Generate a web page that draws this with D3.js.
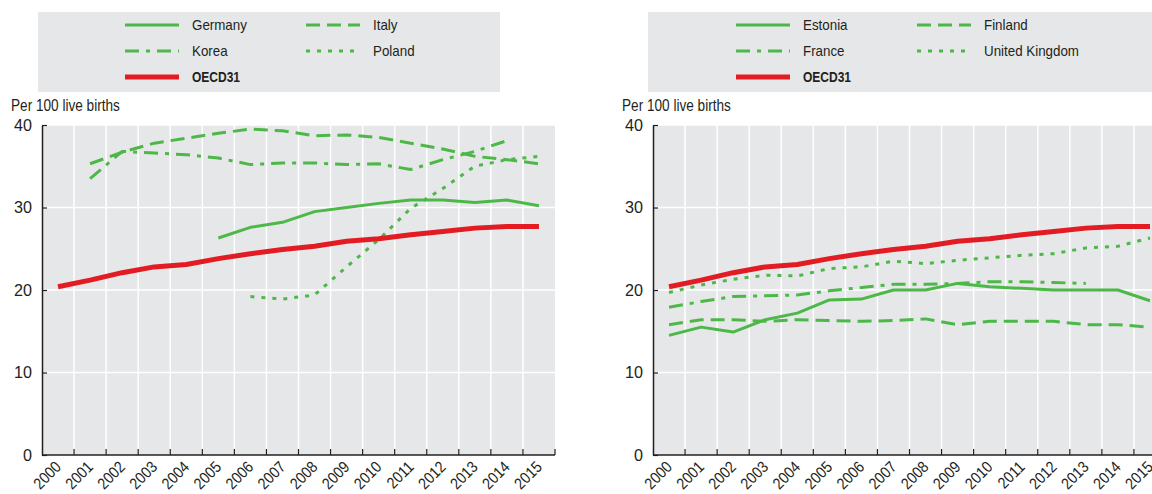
<!DOCTYPE html>
<html>
<head>
<meta charset="utf-8">
<script src="https://cdn.jsdelivr.net/npm/d3@7"></script>
<style>
  html, body { margin: 0; padding: 0; background: #ffffff; }
  svg { display: block; }
  text { font-family: "Liberation Sans", Arial, sans-serif; fill: #231f20; }
</style>
</head>
<body>
<svg id="chart" width="1152" height="494"></svg>
<script>
// ---- Data ----
const years = ["2000","2001","2002","2003","2004","2005","2006","2007","2008","2009","2010","2011","2012","2013","2014","2015"];
const yTicks = [0, 10, 20, 30, 40];
const yLabel = "Per 100 live births";

const oecd31  = [20.4, 21.2, 22.1, 22.8, 23.1, 23.8, 24.4, 24.9, 25.3, 25.9, 26.2, 26.7, 27.1, 27.5, 27.7, 27.7];

const germany = [null, null, null, null, null, 26.3, 27.6, 28.2, 29.5, 30.0, 30.5, 30.9, 30.9, 30.6, 30.9, 30.2];
const italy   = [null, 35.3, 36.7, 37.8, 38.4, 39.0, 39.5, 39.3, 38.7, 38.8, 38.5, 37.8, 37.1, 36.2, 35.8, 35.3];
const korea   = [null, 33.5, 36.8, 36.6, 36.4, 36.0, 35.2, 35.4, 35.4, 35.2, 35.3, 34.6, 35.8, 36.8, 38.1, null];
const poland  = [null, null, null, null, null, null, 19.2, 18.9, 19.4, 22.8, 26.1, 29.9, 32.3, 35.0, 35.8, 36.2];

const estonia = [14.5, 15.5, 14.9, 16.4, 17.2, 18.8, 18.9, 20.0, 20.0, 20.8, 20.4, 20.2, 20.0, 20.0, 20.0, 18.7];
const finland = [15.8, 16.4, 16.4, 16.2, 16.4, 16.3, 16.2, 16.3, 16.5, 15.8, 16.2, 16.2, 16.2, 15.8, 15.8, 15.5];
const france  = [17.9, 18.6, 19.2, 19.3, 19.4, 19.9, 20.3, 20.7, 20.7, 20.8, 21.0, 21.0, 20.9, 20.8, null, null];
const uk      = [19.7, 20.6, 21.3, 21.8, 21.7, 22.6, 22.8, 23.5, 23.2, 23.6, 23.9, 24.2, 24.4, 25.1, 25.3, 26.3];

const leftNames  = ["Germany", "Italy", "Korea", "Poland", "OECD31"];
const rightNames = ["Estonia", "Finland", "France", "United Kingdom", "OECD31"];

// ---- Styles ----
const GREEN = "#4cb848", RED = "#e31b23", BG = "#e6e7e8", AXIS = "#231f20";
const styles = {
  solid:   { color: GREEN, width: 3, dash: null },
  dashed:  { color: GREEN, width: 3, dash: "14,7" },
  dashdot: { color: GREEN, width: 3, dash: "14,7,4,7" },
  dotted:  { color: GREEN, width: 3, dash: "4,7" },
  oecd:    { color: RED,   width: 5, dash: null }
};
const styleOrder = ["solid", "dashed", "dashdot", "dotted", "oecd"];

const panels = [
  { left: 42,  names: leftNames,  data: [germany, italy, korea, poland, oecd31], legend: [38, 500] },
  { left: 653, names: rightNames, data: [estonia, finland, france, uk, oecd31], legend: [648, 1160] }
];

const svg = d3.select("#chart");
const plotTop = 125, plotBottom = 455, plotW = 513;

// horizontally condense text to mimic a narrow typeface
function condense(sel, ratio) {
  sel.each(function () {
    const L = this.getComputedTextLength();
    d3.select(this).attr("textLength", (L * ratio).toFixed(2)).attr("lengthAdjust", "spacingAndGlyphs");
  });
}

panels.forEach(p => {
  const g = svg.append("g");
  const x = d3.scaleBand().domain(years).range([p.left, p.left + plotW]).padding(0);
  const y = d3.scaleLinear().domain([0, 40]).range([plotBottom, plotTop]);
  const cx = yr => x(yr) + x.bandwidth() / 2;

  // legend box
  g.append("rect").attr("x", p.legend[0]).attr("y", 12)
    .attr("width", p.legend[1] - p.legend[0]).attr("height", 80).attr("fill", BG);
  const legX = p.left + 83, legX2 = p.left + 264;
  const legPos = [[legX, 25], [legX2, 25], [legX, 51], [legX2, 51], [legX, 77]];
  p.names.forEach((n, i) => {
    const s = styles[styleOrder[i]];
    const [lx, ly] = legPos[i];
    g.append("line").attr("x1", lx).attr("x2", lx + 54).attr("y1", ly).attr("y2", ly)
      .attr("stroke", s.color).attr("stroke-width", s.width)
      .attr("stroke-dasharray", s.dash);
    const t = g.append("text").attr("x", lx + 67).attr("y", ly).attr("dy", "0.36em")
      .attr("font-size", 15).attr("font-weight", i === 4 ? "bold" : "normal").text(n);
    condense(t, i === 4 ? 0.8 : 0.89);
  });

  // y label
  condense(g.append("text").attr("x", p.left - 31).attr("y", 111).attr("font-size", 16).text(yLabel), 0.85);

  // plot background
  g.append("rect").attr("x", p.left).attr("y", plotTop).attr("width", plotW).attr("height", plotBottom - plotTop).attr("fill", BG);

  // grid
  g.selectAll(".hg").data(yTicks.filter(d => d > 0)).enter().append("line")
    .attr("x1", p.left).attr("x2", p.left + plotW).attr("y1", d => y(d)).attr("y2", d => y(d))
    .attr("stroke", "#fff").attr("stroke-width", 1.5);
  g.selectAll(".vg").data(years.slice(1)).enter().append("line")
    .attr("x1", d => x(d)).attr("x2", d => x(d)).attr("y1", plotTop).attr("y2", plotBottom)
    .attr("stroke", "#fff").attr("stroke-width", 1.5);

  // series
  const line = d3.line().defined(d => d.v != null).x(d => cx(d.yr)).y(d => y(d.v));
  p.data.forEach((arr, i) => {
    const s = styles[styleOrder[i]];
    g.append("path").datum(arr.map((v, k) => ({ yr: years[k], v })))
      .attr("d", line).attr("fill", "none")
      .attr("stroke", s.color).attr("stroke-width", s.width)
      .attr("stroke-dasharray", s.dash).attr("stroke-linejoin", "round");
  });

  // y axis
  const ya = g.append("g").attr("transform", `translate(${p.left},0)`)
    .call(d3.axisLeft(y).tickValues(yTicks).tickSizeInner(-5).tickSizeOuter(0).tickPadding(10));
  ya.select(".domain").attr("stroke", AXIS).attr("stroke-width", 1.5);
  ya.selectAll(".tick line").attr("stroke", AXIS).attr("stroke-width", 1.2);
  ya.selectAll(".tick text").attr("font-size", 17).attr("fill", AXIS)
    .style("font-family", '"Liberation Sans", Arial, sans-serif');
  condense(ya.selectAll(".tick text"), 0.95);

  // x axis
  g.append("line").attr("x1", p.left).attr("x2", p.left + plotW).attr("y1", plotBottom).attr("y2", plotBottom)
    .attr("stroke", AXIS).attr("stroke-width", 1.5);
  const bounds = years.slice(1).map(d => x(d)).concat([p.left + plotW]);
  g.selectAll(".xt").data(bounds).enter().append("line")
    .attr("x1", d => d).attr("x2", d => d).attr("y1", plotBottom).attr("y2", plotBottom - 6)
    .attr("stroke", AXIS).attr("stroke-width", 1.2);
  const xl = g.selectAll(".xl").data(years).enter().append("text")
    .attr("transform", d => `translate(${cx(d) + 4},${plotBottom + 13}) rotate(-45)`)
    .attr("text-anchor", "end").attr("font-size", 16).text(d => d);
  condense(xl, 0.88);
});
</script>
</body>
</html>
